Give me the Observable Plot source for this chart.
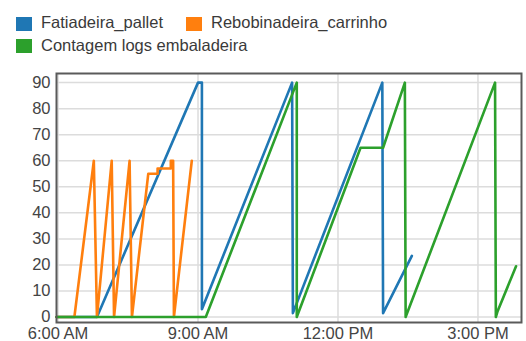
<!DOCTYPE html>
<html>
<head>
<meta charset="utf-8">
<script src="https://cdn.jsdelivr.net/npm/d3@7"></script>
<script src="https://cdn.jsdelivr.net/npm/@observablehq/plot@0.6"></script>
<style>
  html, body { margin: 0; padding: 0; background: #fff; overflow: hidden; }
  body { width: 526px; height: 341px; font-family: "Liberation Sans", Arial, sans-serif; }
  #legend { position: relative; height: 62px; width: 526px; }
  .sw { position: absolute; width: 16px; height: 14px; }
  .lt { position: absolute; font-size: 16.5px; color: #3a3a3a; line-height: 20px; white-space: nowrap; }
</style>
</head>
<body>
<div id="legend"></div>
<div id="chart"></div>
<script>
// Series names and colours
const seriesNames = ["Fatiadeira_pallet", "Rebobinadeira_carrinho", "Contagem logs embaladeira"];
const seriesColors = ["#1f77b4", "#ff7f0e", "#2ca02c"];

// Fatiadeira_pallet
const fatiadeiraTimes = ["05:58","06:50","09:00","09:05","09:05","11:01","11:02","12:57","12:58","13:35"];
const fatiadeiraValues = [0, 0, 90, 90, 3, 90, 1.5, 90, 1.5, 23.5];

// Rebobinadeira_carrinho
const rebobTimes = ["05:58","06:21","06:46","06:50","07:09","07:12","07:32","07:35","07:56","08:08","08:08","08:25","08:25","08:28","08:29","08:52"];
const rebobValues = [0, 0, 60, 0, 60, 0, 60, 0, 55, 55, 57, 57, 60, 60, 0, 60];

// Contagem logs embaladeira
const contagemTimes = ["05:58","09:10","11:07","11:07","12:29","12:58","13:26","13:27","15:22","15:23","15:25","15:49"];
const contagemValues = [0, 0, 90, 0, 65, 65, 90, 0, 90, 0, 2, 19.5];

// Axis ticks
const xTickTimes = ["06:00","09:00","12:00","15:00"];
const yTickValues = [0, 10, 20, 30, 40, 50, 60, 70, 80, 90];
const xDomainTimes = ["05:58","15:56"];
const yDomain = [-2.1, 93.5];

const toDate = s => { const [h, m] = s.split(":").map(Number); return new Date(Date.UTC(2024, 0, 1, h, m)); };
const build = (name, times, values) => times.map((t, i) => ({series: name, time: toDate(t), value: values[i]}));

const data = [
  ...build(seriesNames[0], fatiadeiraTimes, fatiadeiraValues),
  ...build(seriesNames[1], rebobTimes, rebobValues),
  ...build(seriesNames[2], contagemTimes, contagemValues)
];

// Legend
const legend = document.getElementById("legend");
const legendPos = [[16, 17, 41, 12], [186, 17, 211, 12], [16, 39, 41, 35]];
seriesNames.forEach((n, i) => {
  const [sx, sy, tx, ty] = legendPos[i];
  const sw = document.createElement("div");
  sw.className = "sw"; sw.style.left = sx + "px"; sw.style.top = sy + "px"; sw.style.background = seriesColors[i];
  const lt = document.createElement("div");
  lt.className = "lt"; lt.style.left = tx + "px"; lt.style.top = ty + "px"; lt.textContent = n;
  legend.appendChild(sw); legend.appendChild(lt);
});

const fmt = d3.utcFormat("%-I:%M %p");

const chart = Plot.plot({
  width: 526,
  height: 279,
  marginTop: 11,
  marginBottom: 19,
  marginLeft: 56,
  marginRight: 5,
  style: {fontFamily: "'Liberation Sans', Arial, sans-serif", fontSize: "16.5px", color: "#444", background: "#fff"},
  x: {type: "utc", domain: xDomainTimes.map(toDate)},
  y: {domain: yDomain},
  color: {domain: seriesNames, range: seriesColors},
  marks: [
    Plot.gridY(yTickValues, {stroke: "#dcdcdc", strokeOpacity: 1, strokeWidth: 1.5}),
    Plot.gridX(xTickTimes.map(toDate), {stroke: "#dcdcdc", strokeOpacity: 1, strokeWidth: 1.5}),
    Plot.axisY(yTickValues, {tickSize: 0, tickPadding: 6, label: null, fill: "#444"}),
    Plot.axisX(xTickTimes.map(toDate), {tickSize: 0, tickPadding: 5, label: null, tickFormat: fmt, fill: "#444"}),
    Plot.line(data, {x: "time", y: "value", z: "series", stroke: "series", strokeWidth: 2.6, strokeLinejoin: "round"}),
    Plot.frame({stroke: "#5a5a5a", strokeWidth: 2})
  ]
});
document.getElementById("chart").appendChild(chart);
</script>
</body>
</html>
